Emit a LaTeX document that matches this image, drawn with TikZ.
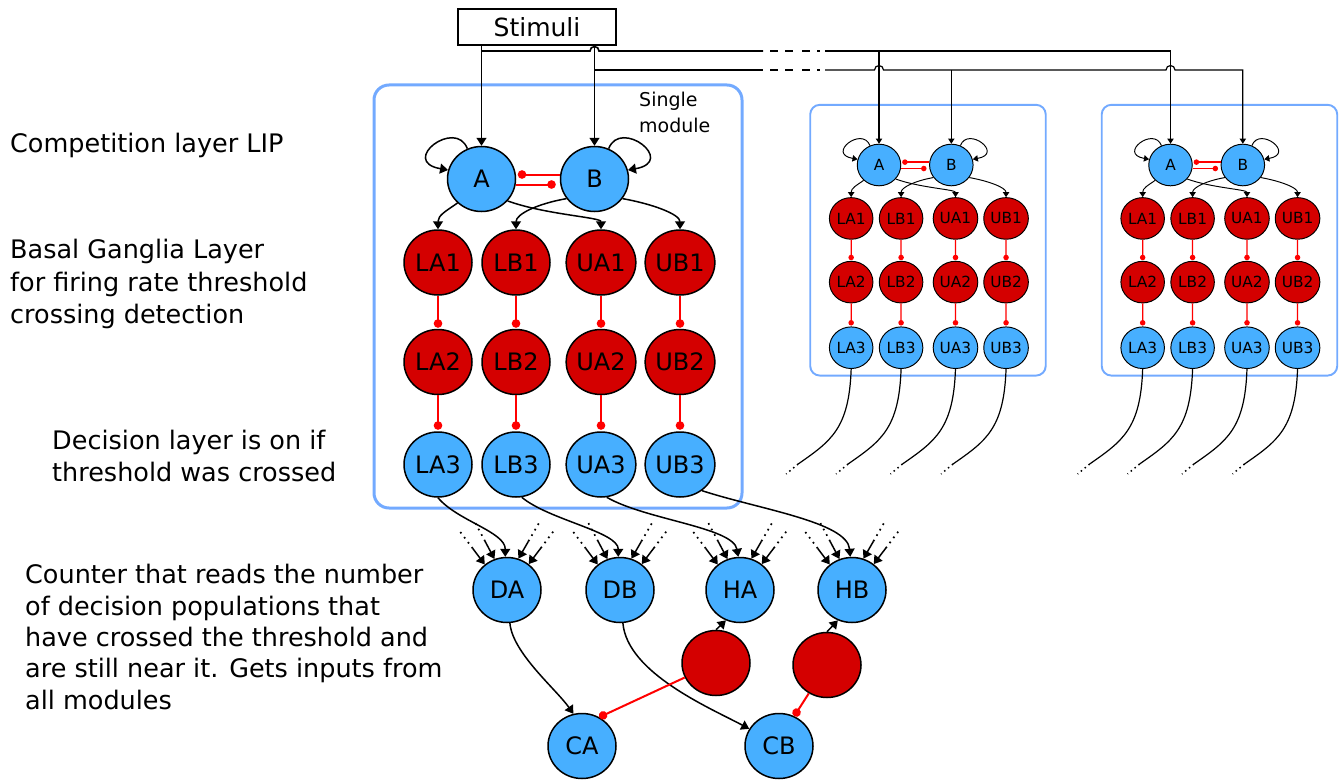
\documentclass[tikz,border=0pt]{standalone}
\usepackage{fontspec}
\setmainfont{DejaVu Sans}
\usetikzlibrary{arrows.meta,shapes.geometric,calc}
\definecolor{popblue}{RGB}{71,175,255}
\definecolor{popred}{RGB}{212,0,0}
\definecolor{modframe}{RGB}{115,170,255}
\definecolor{inhred}{RGB}{255,0,0}

% One module: LIP pair A/B, basal ganglia rows 1-2, decision row 3.
% #1 name prefix, #2/#3 position of A, #4 scale of the whole module
\newcommand\drawmodule[4]{%
  \pgfmathsetmacro\modW{68*#4}%
  \pgfmathsetmacro\modH{65*#4}%
  \pgfmathsetmacro\modF{24*#4}%
  \pgfmathsetmacro\modLW{1.5*#4}%
  \pgfmathsetmacro\modRW{2*#4}%
  \pgfmathsetmacro\modBW{3*#4}%
  \pgfmathsetmacro\modRC{15*#4}%
  \pgfmathsetmacro\modAW{10*#4}%
  \pgfmathsetmacro\modAL{8*#4}%
  \pgfmathsetmacro\modDot{8.5*#4}%
  \pgfmathsetmacro\modShA{1.5*#4}%
  \pgfmathsetmacro\modShB{4*#4}%
  \pgfmathsetmacro\modShC{1*#4}%
  \begin{scope}[shift={(#2,#3)}, scale=#4,
      pop/.style={ellipse, draw, inner sep=0pt, minimum width=\modW pt,
        minimum height=\modH pt, line width=\modLW pt,
        font=\fontsize{\modF}{\modF}\selectfont},
      earrow/.style={line width=\modLW pt, -{Triangle[width=\modAW pt,length=\modAL pt]}},
      inh/.style={draw=inhred, line width=\modRW pt, -{Circle[length=\modDot pt]}}]
    \draw[draw=modframe, line width=\modBW pt, rounded corners=\modRC pt]
      (-107.5,-94) rectangle (260.5,329);
    \node[pop, fill=popblue] (#1A) at (0,0) {A};
    \node[pop, fill=popblue] (#1B) at (113,0) {B};
    \foreach \col/\xx in {LA/-43.5, LB/34.5, UA/119.5, UB/198.5} {
      \node[pop, fill=popred]  (#1\col1) at (\xx,83.5)  {\col1};
      \node[pop, fill=popred]  (#1\col2) at (\xx,183)   {\col2};
      \node[pop, fill=popblue] (#1\col3) at (\xx,285.5) {\col3};
      \draw[inh, shorten >=\modShC pt] (#1\col1) -- (#1\col2);
      \draw[inh, shorten >=\modShA pt] (#1\col2) -- (#1\col3);
    }
    % self excitation
    \draw[earrow] (#1A.115) to[out=111,in=170,out distance=33pt,in distance=50pt] (#1A.165);
    \draw[earrow] (#1B.65) to[out=69,in=10,out distance=33pt,in distance=50pt] (#1B.15);
    % mutual inhibition
    \draw[inh, shorten >=\modShA pt] (#1B.west |- 0,-4.5) -- (#1A.east |- 0,-4.5);
    \draw[inh, shorten >=\modShB pt] (#1A.east |- 0,5.5) -- (#1B.west |- 0,5.5);
    % LIP to threshold detectors
    \draw[earrow] (#1A.225) to[out=215,in=90,out distance=14pt,in distance=14pt] (#1LA1.north);
    \draw[earrow] (#1A.-40) to[out=-20,in=90,out distance=40pt,in distance=12pt] (#1UA1.north);
    \draw[earrow] (#1B.215) to[out=190,in=90,out distance=30pt,in distance=15pt] (#1LB1.north);
    \draw[earrow] (#1B.-35) to[out=-10,in=90,out distance=30pt,in distance=15pt] (#1UB1.north);
  \end{scope}%
}

\begin{document}
\begin{tikzpicture}[x=1pt,y=-1pt,
    lbl/.style={anchor=base west, inner sep=0pt, font=\fontsize{25.5}{25.5}\selectfont},
    cpop/.style={ellipse, draw, inner sep=0pt, minimum width=68pt, minimum height=65pt,
      line width=1.5pt, font=\fontsize{24}{24}\selectfont},
    arr/.style={line width=1.5pt, -{Triangle[width=10pt,length=8pt]}},
    sarr/.style={line width=1.2pt, -{Triangle[width=6.4pt,length=5.2pt]}},
    bus/.style={line width=1.6pt},
    gapdash/.style={bus, dash pattern=on 8pt off 7pt on 8pt off 9pt on 8pt off 7pt on 3pt off 20pt},
    inhc/.style={draw=inhred, line width=2pt, -{Circle[length=8.5pt]}},
    dotline/.style={line width=1.7pt, dash pattern=on 1.7pt off 4.6pt},
    dotsmall/.style={line width=1.5pt, dash pattern=on 1.5pt off 3.5pt}]
\useasboundingbox (0,0) rectangle (1343,781);

% left-hand captions
\node[lbl] (c1) at (10,152) {Competition layer LIP};
\node[lbl] (c2) at (10,258) {Basal Ganglia Layer};
\node[lbl] (c3) at (10,291) {for firing rate threshold};
\node[lbl] (c4) at (10,323) {crossing detection};
\node[lbl] (c5) at (52,449) {Decision layer is on if};
\node[lbl] (c6) at (52,481) {threshold was crossed};
\node[lbl] (c7) at (25,583) {Counter that reads the number};
\node[lbl] (c8) at (25,615) {of decision populations that};
\node[lbl] (c9) at (25,646) {have crossed the threshold and};
\node[lbl] (c10) at (25,677) {are still near it. Gets inputs from};
\node[lbl] (c11) at (25,709) {all modules};

% modules
\drawmodule{m}{481.5}{179}{1}
\drawmodule{n}{879}{165}{0.64}
\drawmodule{o}{1170.5}{165}{0.64}

\node[anchor=base west, inner sep=0pt, font=\fontsize{19}{19}\selectfont] (sm1) at (639,107) {Single};
\node[anchor=base west, inner sep=0pt, font=\fontsize{19}{19}\selectfont] (sm2) at (639,132) {module};

% stimulus input and its distribution bus
\node[draw, line width=1.5pt, minimum width=158pt, minimum height=36pt, inner sep=0pt,
  font=\fontsize{25}{25}\selectfont] (stim) at (537,27) {Stimuli};
\coordinate (busA) at (481.5,51);
\coordinate (busB) at (594.5,70);
\coordinate (gA1) at (763,51);  \coordinate (gA2) at (770,51);
\coordinate (gA3) at (821,51);  \coordinate (gA4) at (825,51);
\coordinate (gB1) at (763,70);  \coordinate (gB2) at (770,70);
\coordinate (gB3) at (821,70);  \coordinate (gB4) at (825,70);

\draw[arr] (stim.south -| mA) -- (mA.north);
\draw[arr] (stim.south -| mB) -- (mB.north);

\draw[bus] (busA) -- ($(mB |- busA)+(-4.5,0)$) arc[start angle=180,end angle=0,radius=4.5pt] -- (gA1);
\draw[gapdash] (gA2) -- (gA3);
\draw[bus, sarr] (gA4) -- (oA |- busA) -- (oA.north);
\draw[sarr] (nA |- busA) -- (nA.north);

\draw[bus] (busB) -- (gB1);
\draw[gapdash] (gB2) -- (gB3);
\draw[bus, sarr] (gB4) -- ($(nA |- busB)+(-4.5,0)$) arc[start angle=180,end angle=0,radius=4.5pt]
  -- ($(oA |- busB)+(-4.5,0)$) arc[start angle=180,end angle=0,radius=4.5pt]
  -- (oB |- busB) -- (oB.north);
\draw[sarr] (nB |- busB) -- (nB.north);

% decision outputs of the other modules
\foreach \p in {n,o} {
  \foreach \col in {LA3,LB3,UA3,UB3} {
    \coordinate (\p\col-t) at ($(\p\col.south)+(-53,95)$);
    \draw[line width=1.2pt] (\p\col.south) to[out=-92,in=35,out distance=60pt,in distance=40pt] (\p\col-t);
    \draw[dotsmall] (\p\col-t) -- ++(-12,10);
  }
}

% counters
\node[cpop, fill=popblue] (DA) at (507,590) {DA};
\node[cpop, fill=popblue] (DB) at (620,590) {DB};
\node[cpop, fill=popblue] (HA) at (740,590) {HA};
\node[cpop, fill=popblue] (HB) at (852,590) {HB};
\node[cpop, fill=popred] (r1) at (716,663) {};
\node[cpop, fill=popred] (r2) at (827,665) {};
\node[cpop, fill=popblue] (CA) at (582,746) {CA};
\node[cpop, fill=popblue] (CB) at (779,746) {CB};

\draw[arr] (mLA3.south) to[out=-50,in=90,out distance=30pt,in distance=25pt] (DA.93);
\draw[arr] (mLB3.-80) to[out=-40,in=90,out distance=35pt,in distance=25pt] (DB.93);
\draw[arr] (mUA3.-80) to[out=-30,in=100,out distance=45pt,in distance=30pt] (HA.93);
\draw[arr] (mUB3.-50) to[out=-18,in=95,out distance=60pt,in distance=35pt] (HB.93);

% inputs from the other modules
\foreach \n in {DA,DB,HA,HB} {
  \foreach \a/\d/\k in {131/127/1, 112/118/2, 70/60/3, 50/53/4} {
    \coordinate (\n s\k) at ($(\n.\a)+(\d:20pt)$);
    \draw[dotline] (\n s\k) -- ++(\d:22pt);
    \draw[arr] (\n s\k) -- (\n.\a);
  }
}

\draw[arr] (DA.-85) to[out=-85,in=125,out distance=30pt,in distance=30pt] (CA.105);
\draw[arr] (DB.-85) to[out=-85,in=152,out distance=50pt,in distance=45pt] (CB.150);
\draw[arr] (r1.north) -- (HA.-115);
\draw[arr] (r2.north) -- (HB.-115);
\draw[inhc] (r1) -- (CA.59);
\draw[inhc] (r2) -- (CB.63);
\end{tikzpicture}
\end{document}
